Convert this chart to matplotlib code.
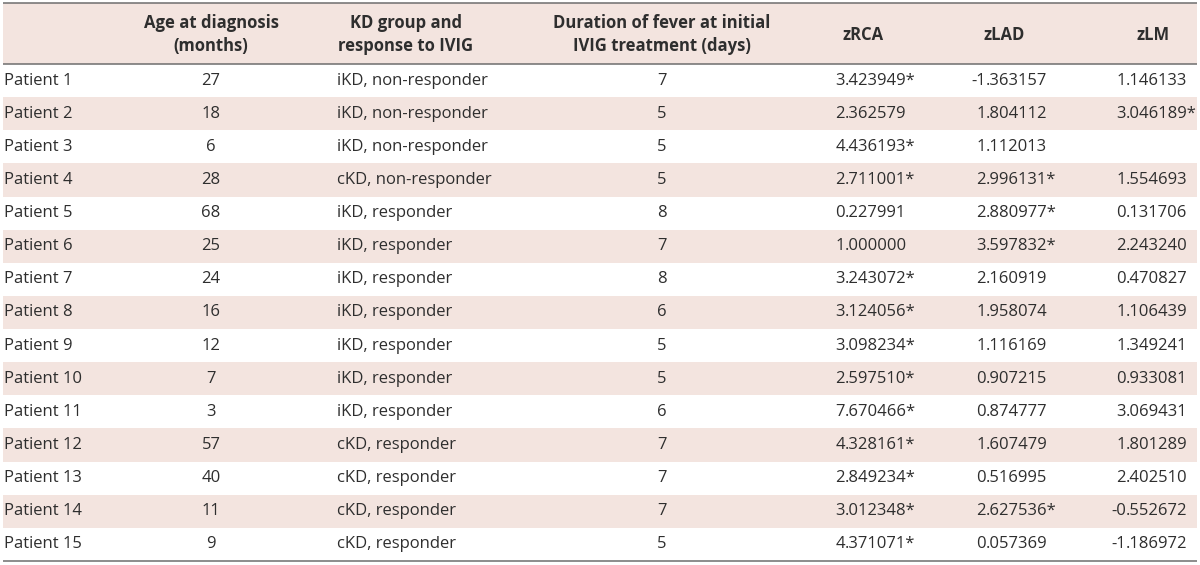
import matplotlib.pyplot as plt
from matplotlib.patches import Rectangle

# Table contents
headers = ["", "Age at diagnosis\n(months)", "KD group and\nresponse to IVIG",
           "Duration of fever at initial\nIVIG treatment (days)", "zRCA", "zLAD", "zLM"]
patients = ["Patient 1", "Patient 2", "Patient 3", "Patient 4", "Patient 5",
            "Patient 6", "Patient 7", "Patient 8", "Patient 9", "Patient 10",
            "Patient 11", "Patient 12", "Patient 13", "Patient 14", "Patient 15"]
ages = [27, 18, 6, 28, 68, 25, 24, 16, 12, 7, 3, 57, 40, 11, 9]
groups = ["iKD, non-responder", "iKD, non-responder", "iKD, non-responder",
          "cKD, non-responder", "iKD, responder", "iKD, responder", "iKD, responder",
          "iKD, responder", "iKD, responder", "iKD, responder", "iKD, responder",
          "cKD, responder", "cKD, responder", "cKD, responder", "cKD, responder"]
fever_days = [7, 5, 5, 5, 8, 7, 8, 6, 5, 5, 6, 7, 7, 7, 5]
zrca = ["3.423949*", "2.362579", "4.436193*", "2.711001*", "0.227991", "1.000000",
        "3.243072*", "3.124056*", "3.098234*", "2.597510*", "7.670466*", "4.328161*",
        "2.849234*", "3.012348*", "4.371071*"]
zlad = ["-1.363157", "1.804112", "1.112013", "2.996131*", "2.880977*", "3.597832*",
        "2.160919", "1.958074", "1.116169", "0.907215", "0.874777", "1.607479",
        "0.516995", "2.627536*", "0.057369"]
zlm = ["1.146133", "3.046189*", "", "1.554693", "0.131706", "2.243240", "0.470827",
       "1.106439", "1.349241", "0.933081", "3.069431", "1.801289", "2.402510",
       "-0.552672", "-1.186972"]

# Layout (pixel coordinates)
W, H = 1200, 565
left, right = 3, 1197
head_top, head_bot = 3, 64
row_h = (561 - head_bot) / len(patients)
head_x = [None, 211, 406, 662, 863, 1004, 1153]
dec_x = [845, 986, 1126]   # decimal point positions of z columns

pink = "#f3e4df"
txt = "#2e2e2e"
line_c = "#6e6e6e"
plt.rcParams["font.family"] = ["Open Sans", "DejaVu Sans"]
fs = 12

fig = plt.figure(figsize=(W / 100, H / 100), dpi=100)
ax = fig.add_axes([0, 0, 1, 1])
ax.set_xlim(0, W)
ax.set_ylim(H, 0)
ax.axis("off")

# header background
ax.add_patch(Rectangle((left, head_top), right - left, head_bot - head_top,
                       color=pink, lw=0))
for j, h in enumerate(headers):
    if h:
        ax.text(head_x[j], (head_top + head_bot) / 2 + 1, h, ha="center", va="center",
                fontsize=fs, fontweight="bold", color=txt, linespacing=1.4)


def put_decimal(x, y, s):
    # align numbers on the decimal point
    if not s:
        return
    whole, rest = s.split(".")
    ax.text(x, y, whole, ha="right", va="center", fontsize=fs, color=txt)
    ax.text(x, y, "." + rest, ha="left", va="center", fontsize=fs, color=txt)


for i in range(len(patients)):
    y0 = head_bot + i * row_h
    yc = y0 + row_h / 2
    if i % 2 == 1:
        ax.add_patch(Rectangle((left, y0), right - left, row_h, color=pink, lw=0))
    ax.text(4, yc, patients[i], ha="left", va="center", fontsize=fs, color=txt)
    ax.text(head_x[1], yc, str(ages[i]), ha="center", va="center", fontsize=fs, color=txt)
    ax.text(337, yc, groups[i], ha="left", va="center", fontsize=fs, color=txt)
    ax.text(head_x[3], yc, str(fever_days[i]), ha="center", va="center", fontsize=fs, color=txt)
    for k, col in enumerate([zrca, zlad, zlm]):
        put_decimal(dec_x[k], yc, col[i])

for yl in (head_top, head_bot, 561):
    ax.plot([left, right], [yl, yl], color=line_c, lw=1.1, solid_capstyle="butt")

fig.savefig("out.png", dpi=100)
